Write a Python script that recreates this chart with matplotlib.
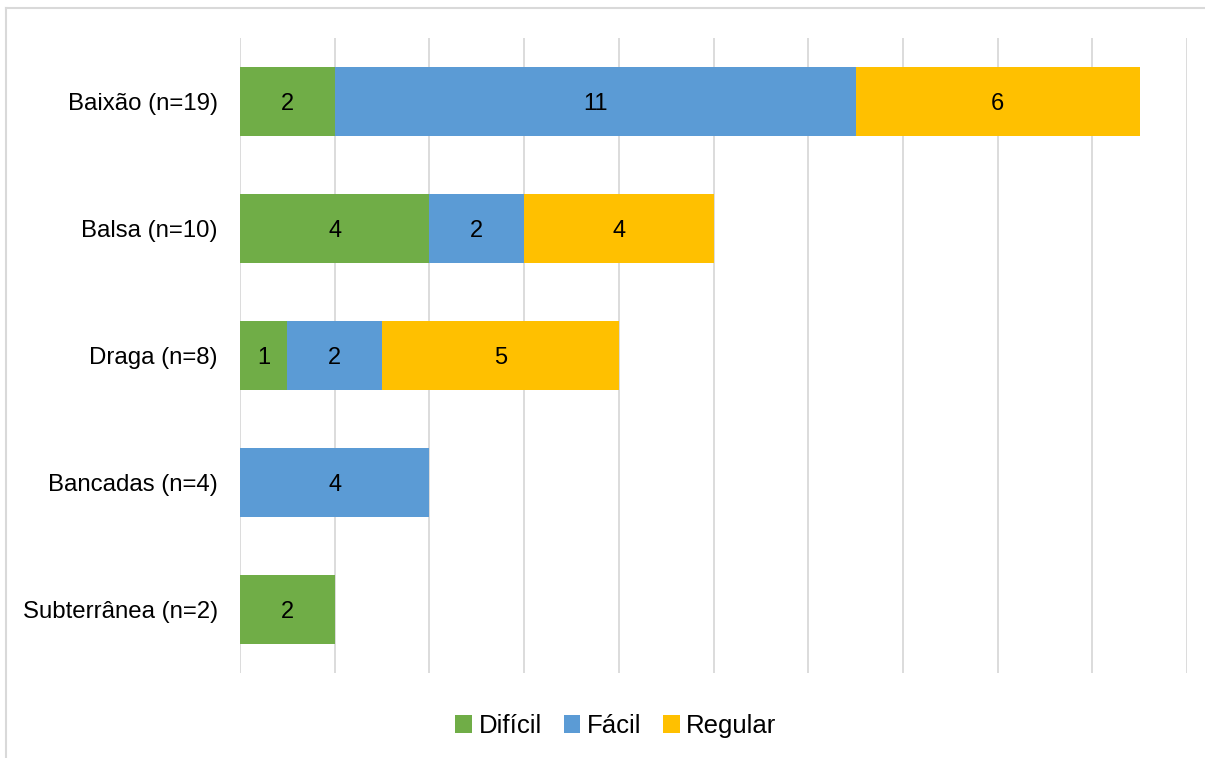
import numpy as np
import matplotlib.pyplot as plt
from matplotlib.lines import Line2D

plt.rcParams['font.family'] = ['Liberation Sans', 'DejaVu Sans']

categories = ["Baixão (n=19)", "Balsa (n=10)", "Draga (n=8)", "Bancadas (n=4)", "Subterrânea (n=2)"]
dificil = [2, 4, 1, 0, 2]
facil = [11, 2, 2, 4, 0]
regular = [6, 4, 5, 0, 0]

series = [("Difícil", dificil, "#70AD47"),
          ("Fácil", facil, "#5B9BD5"),
          ("Regular", regular, "#FFC000")]

fig = plt.figure(figsize=(12.05, 7.58), dpi=100)
ax = fig.add_axes([240 / 1205, 1 - 673 / 758, (1187 - 240) / 1205, (673 - 38) / 758])

y = np.arange(len(categories))
left = np.zeros(len(categories))
for name, vals, color in series:
    vals = np.array(vals, dtype=float)
    bars = ax.barh(y, vals, left=left, height=0.545, color=color, label=name, zorder=2)
    for b, v in zip(bars, vals):
        if v > 0:
            ax.text(b.get_x() + b.get_width() / 2, b.get_y() + b.get_height() / 2,
                    f"{int(v)}", ha="center", va="center_baseline", fontsize=17,
                    color="black", zorder=3)
    left += vals

ax.set_xlim(0, 20)
ax.set_ylim(len(categories) - 0.5, -0.5)
ax.set_xticks(np.arange(0, 21, 2))
ax.set_xticklabels([])
ax.tick_params(axis="x", length=0)
ax.tick_params(axis="y", length=0, pad=16, labelsize=17.3)
ax.set_yticks(y)
ax.set_yticklabels(categories)
ax.grid(axis="x", color="#D9D9D9", linewidth=1.3, zorder=0)
for s in ax.spines.values():
    s.set_visible(False)

ax.legend(loc="center", bbox_to_anchor=(616 / 1205, 1 - 726 / 758), bbox_transform=fig.transFigure,
          ncol=3, frameon=False, fontsize=18.5, handlelength=0.65, handleheight=0.65,
          handletextpad=0.25, columnspacing=0.85)

# outer frame: top and left edges
fig.add_artist(Line2D([6 / 1205, 1.0], [1 - 8 / 758, 1 - 8 / 758], transform=fig.transFigure,
                      color="#D9D9D9", linewidth=1.5))
fig.add_artist(Line2D([6 / 1205, 6 / 1205], [0, 1 - 8 / 758], transform=fig.transFigure,
                      color="#D9D9D9", linewidth=1.5))

fig.savefig("out.png", dpi=100)
